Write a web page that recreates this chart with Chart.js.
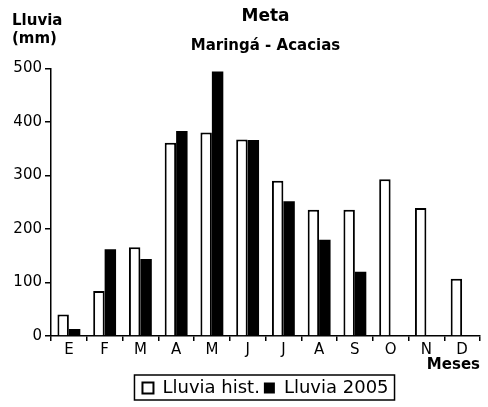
<!DOCTYPE html>
<html>
<head>
<meta charset="utf-8">
<script src="https://cdn.jsdelivr.net/npm/chart.js@4.4.1/dist/chart.umd.min.js"></script>
<style>
  html, body { margin: 0; padding: 0; background: #fff; }
</style>
</head>
<body>
<canvas id="lluviaChart" width="488" height="407"></canvas>
<script>
// ----- Datos -----
const meses = ["E", "F", "M", "A", "M", "J", "J", "A", "S", "O", "N", "D"];
const lluviaHist = [40, 84, 166, 361, 380, 367, 290, 236, 236, 293, 239, 107];
const lluvia2005 = [13, 162, 144, 383, 494, 366, 252, 180, 120, null, null, null];
const yTicks = [0, 100, 200, 300, 400, 500];

Chart.defaults.font.family = '"DejaVu Sans", sans-serif';
Chart.defaults.color = '#000';

// Textos sueltos y marco de la leyenda
const textosExtra = {
  id: 'textosExtra',
  afterDraw(chart) {
    const ctx = chart.ctx;
    ctx.save();
    ctx.fillStyle = '#000';
    ctx.font = 'bold 15px "DejaVu Sans"';
    ctx.textBaseline = 'middle';
    ctx.textAlign = 'left';
    ctx.fillText('Lluvia', 12, 21);
    ctx.fillText('(mm)', 12, 39);

    // marco alrededor de la leyenda
    const boxes = chart.legend.legendHitBoxes;
    if (boxes.length) {
      const x0 = Math.min(...boxes.map(b => b.left)) - 8;
      const x1 = Math.max(...boxes.map(b => b.left + b.width)) + 6;
      const y0 = Math.min(...boxes.map(b => b.top)) - 4;
      const y1 = Math.max(...boxes.map(b => b.top + b.height)) + 3;
      ctx.strokeStyle = '#000';
      ctx.lineWidth = 1.5;
      ctx.strokeRect(x0, y0, x1 - x0, y1 - y0);
    }
    ctx.restore();
  }
};

new Chart(document.getElementById("lluviaChart"), {
  type: "bar",
  data: {
    labels: meses,
    datasets: [
      {
        label: "Lluvia hist.",
        data: lluviaHist,
        backgroundColor: "#fff",
        borderColor: "#000",
        borderWidth: 2,
        categoryPercentage: 0.64,
        barPercentage: 1.0
      },
      {
        label: "Lluvia 2005",
        data: lluvia2005,
        backgroundColor: "#000",
        borderColor: "#000",
        borderWidth: 0,
        categoryPercentage: 0.64,
        barPercentage: 1.0
      }
    ]
  },
  options: {
    responsive: false,
    animation: false,
    devicePixelRatio: 1,
    layout: { padding: { left: 10, right: 8, top: 0, bottom: 0 } },
    plugins: {
      title: {
        display: true,
        text: "Meta",
        fullSize: false,
        font: { size: 17, weight: 'bold' },
        padding: { top: 6, bottom: 0 }
      },
      subtitle: {
        display: true,
        text: "Maringá - Acacias",
        fullSize: false,
        font: { size: 15, weight: 'bold' },
        padding: { top: 11, bottom: 13 }
      },
      legend: {
        position: "bottom",
        fullSize: false,
        labels: {
          boxWidth: 11,
          boxHeight: 11,
          padding: 4,
          font: { size: 18 }
        }
      },
      tooltip: { enabled: false }
    },
    scales: {
      x: {
        grid: {
          drawOnChartArea: false,
          drawTicks: true,
          tickLength: 5,
          color: "#000",
          lineWidth: 1.5
        },
        border: { color: "#000", width: 1.5 },
        ticks: { padding: 0, font: { size: 15 } },
        title: {
          display: true,
          text: "Meses",
          align: "end",
          font: { size: 15, weight: 'bold' },
          padding: { top: -3, bottom: 1 }
        }
      },
      y: {
        min: 0,
        max: 500,
        afterBuildTicks: scale => { scale.ticks = yTicks.map(v => ({ value: v })); },
        afterFit: scale => { scale.width = 41; },
        grid: {
          drawOnChartArea: false,
          drawTicks: true,
          tickLength: 6,
          color: "#000",
          lineWidth: 1.5
        },
        border: { color: "#000", width: 1.5 },
        ticks: { padding: 3, font: { size: 15 } }
      }
    }
  },
  plugins: [textosExtra]
});
</script>
</body>
</html>
